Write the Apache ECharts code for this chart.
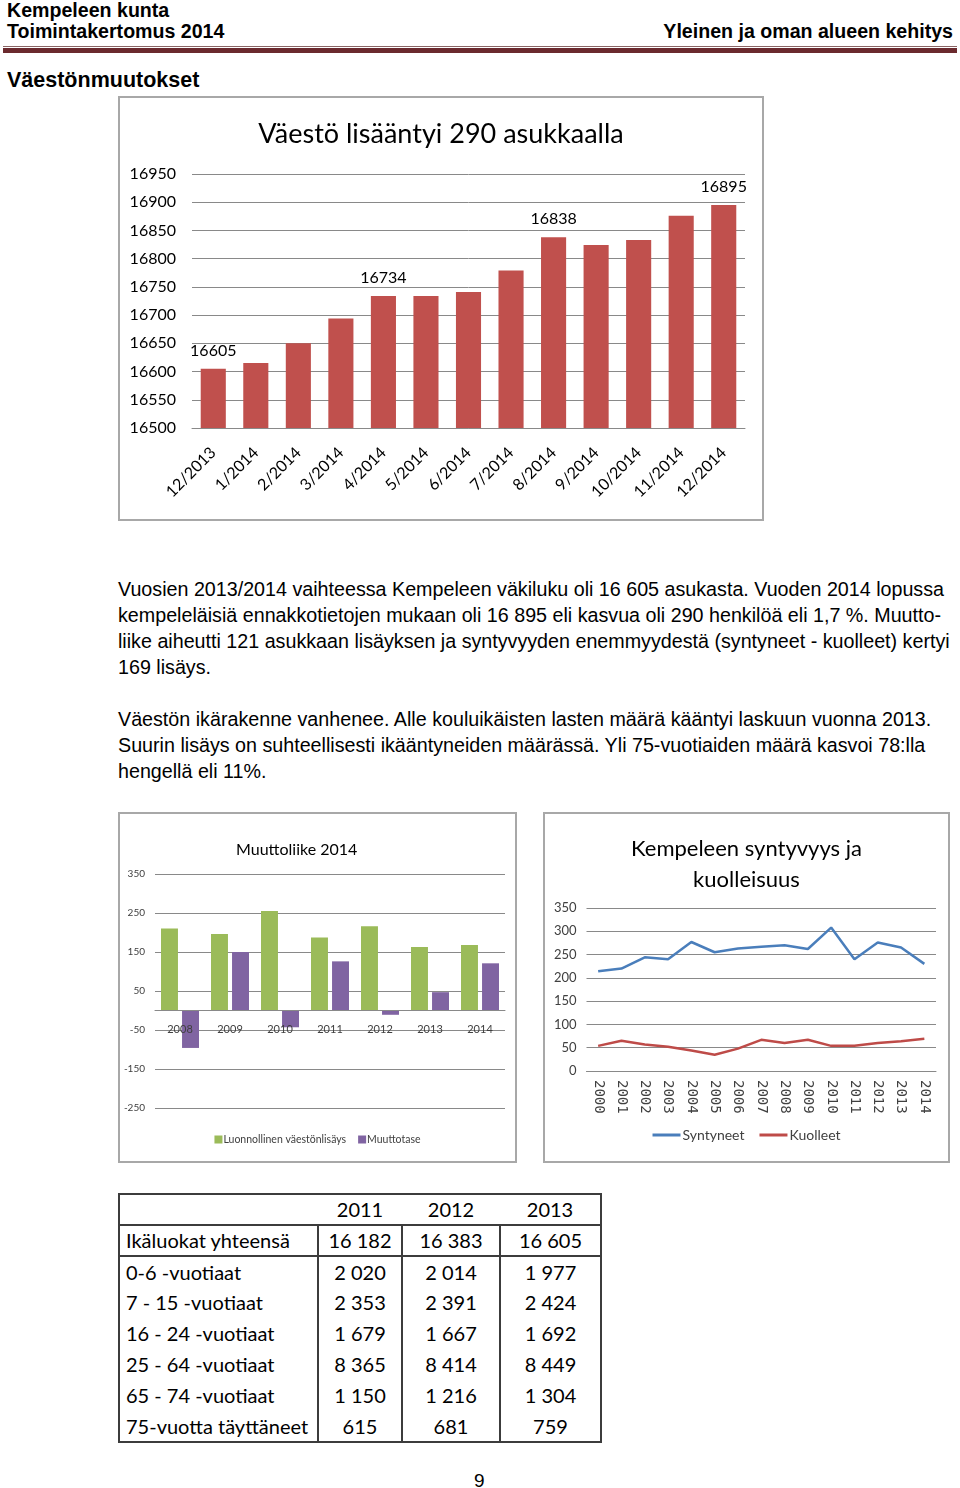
<!DOCTYPE html>
<html><head><meta charset="utf-8">
<script src="https://cdn.jsdelivr.net/npm/echarts@6/dist/echarts.min.js"></script>
<style>
html,body{margin:0;padding:0;background:#fff}
body{width:960px;height:1488px;position:relative;overflow:hidden;font-family:"Liberation Sans",Arial,sans-serif;color:#000}
.abs{position:absolute;white-space:nowrap}
.hdr{font-weight:bold;font-size:19.6px;line-height:20px}
.box{position:absolute;border:2px solid #a8a8a8;background:#fff;box-sizing:border-box}
.para{position:absolute;left:118px;font-size:19.7px;line-height:26px;white-space:nowrap}
#tbl{position:absolute;left:118px;top:1193px;border-collapse:collapse;table-layout:fixed;width:482px;font-family:Lato,"Open Sans",sans-serif;font-size:20px;border:2px solid #3c3c3c}
#tbl td{height:31px;padding:0;box-sizing:border-box;white-space:nowrap;line-height:29px}
#tbl td.lab{text-align:left;padding-left:6px}
#tbl td.num{text-align:center;border-left:2px solid #3c3c3c}
#tbl tr.head td{border-bottom:2px solid #3c3c3c;text-align:center}
#tbl tr.head td.num{border-left:none}
#tbl tr.total td{border-bottom:2px solid #3c3c3c}
</style>
</head>
<body>
<div class="abs hdr" style="left:7px;top:0px">Kempeleen kunta</div>
<div class="abs hdr" style="left:7px;top:21px">Toimintakertomus 2014</div>
<div class="abs hdr" style="right:7px;top:21px">Yleinen ja oman alueen kehitys</div>
<div class="abs" style="left:3px;top:46px;width:954px;height:1px;background:#8a6464"></div>
<div class="abs" style="left:3px;top:48px;width:954px;height:5px;background:#6b2a2e"></div>
<div class="abs" style="left:7px;top:70px;font-weight:bold;font-size:21.5px;line-height:20px">Väestönmuutokset</div>

<div class="box" style="left:118px;top:96px;width:646px;height:425px"></div>
<div id="c1" style="position:absolute;left:120px;top:98px;width:642px;height:421px"></div>

<div class="para" style="top:576px">Vuosien 2013/2014 vaihteessa Kempeleen väkiluku oli 16 605 asukasta. Vuoden 2014 lopussa<br>kempeleläisiä ennakkotietojen mukaan oli 16 895 eli kasvua oli 290 henkilöä eli 1,7 %. Muutto-<br>liike aiheutti 121 asukkaan lisäyksen ja syntyvyyden enemmyydestä (syntyneet - kuolleet) kertyi<br>169 lisäys.</div>
<div class="para" style="top:706px">Väestön ikärakenne vanhenee. Alle kouluikäisten lasten määrä kääntyi laskuun vuonna 2013.<br>Suurin lisäys on suhteellisesti ikääntyneiden määrässä. Yli 75-vuotiaiden määrä kasvoi 78:lla<br>hengellä eli 11%.</div>

<div class="box" style="left:118px;top:812px;width:399px;height:351px"></div>
<div id="c2" style="position:absolute;left:120px;top:814px;width:395px;height:347px"></div>
<div class="box" style="left:543px;top:812px;width:407px;height:351px"></div>
<div id="c3" style="position:absolute;left:545px;top:814px;width:403px;height:347px"></div>

<table id="tbl"><colgroup><col style="width:199px"><col style="width:84px"><col style="width:98px"><col style="width:101px"></colgroup><tbody></tbody></table>

<div class="abs" style="left:474px;top:1470px;font-size:19px;line-height:22px">9</div>

<script>
// ---------- Chart 1: population by month ----------
const months = ['12/2013','1/2014','2/2014','3/2014','4/2014','5/2014','6/2014','7/2014','8/2014','9/2014','10/2014','11/2014','12/2014'];
const population = [16605,16615,16650,16694,16734,16734,16741,16779,16838,16824,16833,16876,16895];
const labelledMonths = ['12/2013','4/2014','8/2014','12/2014'];

// ---------- Chart 2: migration 2008-2014 ----------
const migYears = ['2008','2009','2010','2011','2012','2013','2014'];
const naturalIncrease = [210,196,255,187,216,163,168];
const netMigration = [-96,150,-43,126,-11,47,121];

// ---------- Chart 3: births and deaths ----------
const bdYears = ['2000','2001','2002','2003','2004','2005','2006','2007','2008','2009','2010','2011','2012','2013','2014'];
const births = [214,220,244,240,277,255,263,267,270,262,308,240,276,265,230];
const deaths = [54,65,57,52,44,35,48,67,60,67,54,54,60,64,69];

// ---------- Table ----------
const tableYears = ['2011','2012','2013'];
const ageGroups = ['Ikäluokat yhteensä','0-6 -vuotiaat','7 - 15 -vuotiaat','16 - 24 -vuotiaat','25 - 64 -vuotiaat','65 - 74 -vuotiaat','75-vuotta täyttäneet'];
const pop2011 = [16182,2020,2353,1679,8365,1150,615];
const pop2012 = [16383,2014,2391,1667,8414,1216,681];
const pop2013 = [16605,1977,2424,1692,8449,1304,759];

const F = 'Lato, "Open Sans", sans-serif';
const GRID = '#898989';

const c1 = echarts.init(document.getElementById('c1'));
c1.setOption({
  animation:false,
  title:{text:'Väestö lisääntyi 290 asukkaalla',left:'center',top:18,textStyle:{fontFamily:F,fontSize:27,fontWeight:'normal',color:'#000'}},
  grid:{left:72,right:17,top:76,bottom:91},
  xAxis:{type:'category',data:months,axisTick:{show:false},axisLine:{show:true,lineStyle:{color:GRID}},
    axisLabel:{rotate:45,fontFamily:F,fontSize:16,color:'#000',margin:22,interval:0}},
  yAxis:{type:'value',min:16500,max:16950,interval:50,axisLine:{show:false},axisTick:{show:false},
    axisLabel:{fontFamily:F,fontSize:16,color:'#000',margin:16,formatter:v=>String(v)},splitLine:{lineStyle:{color:GRID,width:1}}},
  series:[{type:'bar',barCategoryGap:'41%',itemStyle:{color:'#c0504d'},
    data:population.map((v,i)=>({value:v,label:{show:labelledMonths.includes(months[i])}})),
    label:{position:'top',distance:10,fontFamily:F,fontSize:16,color:'#000'}}]
});

// chart 2: y range and grid height used to place the category axis on the zero line
const migMin = -250, migMax = 350, migGridTop = 60, migGridBottom = 53, migHeight = 347;
const zeroOffset = -(0 - migMin) / (migMax - migMin) * (migHeight - migGridTop - migGridBottom);

const c2 = echarts.init(document.getElementById('c2'));
c2.setOption({
  animation:false,
  title:{text:'Muuttoliike 2014',left:111,top:23,textStyle:{fontFamily:F,fontSize:16,fontWeight:'normal',color:'#000'}},
  grid:{left:35,right:10,top:migGridTop,bottom:migGridBottom},
  legend:{bottom:11,left:'center',icon:'rect',itemWidth:8,itemHeight:8,itemGap:12,
    textStyle:{fontFamily:F,fontSize:10.5,color:'#404040',padding:[0,0,0,-4]}},
  xAxis:{type:'category',data:migYears,position:'bottom',offset:zeroOffset,z:10,axisTick:{show:false},
    axisLine:{show:true,onZero:false,lineStyle:{color:GRID}},
    axisLabel:{fontFamily:F,fontSize:11,color:'#404040',margin:13}},
  yAxis:{type:'value',min:migMin,max:migMax,interval:100,axisLine:{show:false},axisTick:{show:false},
    axisLabel:{fontFamily:F,fontSize:10,color:'#404040',margin:10},splitLine:{lineStyle:{color:GRID,width:1}}},
  series:[
    {name:'Luonnollinen väestönlisäys',type:'bar',data:naturalIncrease,itemStyle:{color:'#9bbb59'},barGap:'24%',barCategoryGap:'24%'},
    {name:'Muuttotase',type:'bar',data:netMigration,itemStyle:{color:'#8064a2'},barGap:'24%',barCategoryGap:'24%'}
  ]
});

const c3 = echarts.init(document.getElementById('c3'));
c3.setOption({
  animation:false,
  title:{text:'Kempeleen syntyvyys ja\nkuolleisuus',left:'center',top:14,textStyle:{fontFamily:F,fontSize:22,lineHeight:31,fontWeight:'normal',color:'#000'}},
  grid:{left:41.5,right:12,top:94,bottom:90},
  legend:{bottom:14,left:'center',icon:'rect',itemWidth:28,itemHeight:3,itemGap:15,
    textStyle:{fontFamily:F,fontSize:14,color:'#404040',padding:[0,0,0,-3]}},
  xAxis:{type:'category',data:bdYears,boundaryGap:true,axisTick:{show:false},axisLine:{show:true,lineStyle:{color:GRID}},
    axisLabel:{rotate:-90,fontFamily:'"DejaVu Sans Mono", "Liberation Mono", monospace',fontSize:14,color:'#404040',margin:9,interval:0}},
  yAxis:{type:'value',min:0,max:350,interval:50,axisLine:{show:false},axisTick:{show:false},
    axisLabel:{fontFamily:F,fontSize:13,color:'#404040',margin:10},splitLine:{lineStyle:{color:GRID,width:1}}},
  series:[
    {name:'Syntyneet',type:'line',data:births,symbol:'none',lineStyle:{width:2.5,color:'#4a7ebb'},itemStyle:{color:'#4a7ebb'}},
    {name:'Kuolleet',type:'line',data:deaths,symbol:'none',lineStyle:{width:2.5,color:'#be4b48'},itemStyle:{color:'#be4b48'}}
  ]
});

// build table
const fmt = n => String(n).replace(/\B(?=(\d{3})+(?!\d))/g,' ');
const tb = document.querySelector('#tbl tbody');
let html = '<tr class="head"><td class="lab"></td>' + tableYears.map(y=>'<td class="num">'+y+'</td>').join('') + '</tr>';
const cols = [pop2011,pop2012,pop2013];
ageGroups.forEach((g,i)=>{
  html += '<tr'+(i===0?' class="total"':'')+'><td class="lab">'+g+'</td>'+cols.map(c=>'<td class="num">'+fmt(c[i])+'</td>').join('')+'</tr>';
});
tb.innerHTML = html;
</script>
</body></html>
